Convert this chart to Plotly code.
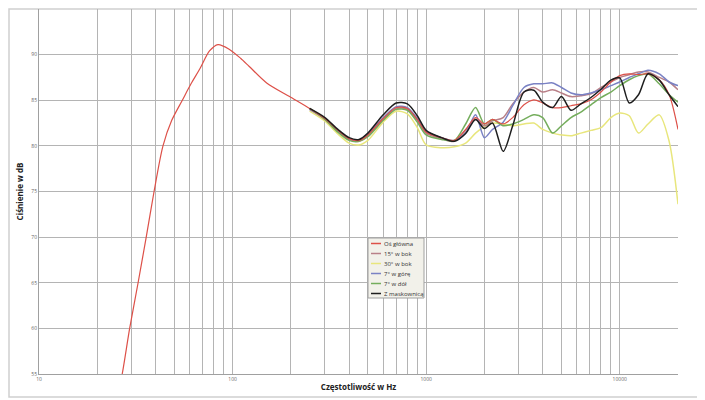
import plotly.graph_objects as go

# Oś główna – zakres niskich częstotliwości (tylko ta krzywa go obejmuje)
freq_low = [26, 26.9, 29.4, 32.5, 35.8, 39.3, 43.7, 48.5, 55, 61, 68, 76, 84, 96, 110, 122, 150, 197]
os_glowna_low = [53.7, 55.0, 60.0, 65.0, 70.0, 75.0, 80.0, 82.8, 85.0, 86.8, 88.5, 90.4, 91.1, 90.6,
                 89.6, 88.7, 86.9, 85.4]

# wspólna siatka częstotliwości dla pomiarów pod kątem
freq = [250, 300, 350, 400, 450, 500, 600, 700, 800, 900, 1000, 1200, 1400,
        1600, 1800, 2000, 2200, 2500, 2800, 3200, 3600, 4000, 4500, 5000, 5600,
        6300, 7100, 8000, 9000, 10000, 11200, 12500, 14000, 16000, 18000, 20000]

os_glowna = [84.1, 83.0, 81.7, 80.8, 80.6, 81.2, 83.0, 84.2, 84.1, 82.9, 81.5, 80.9, 80.6,
             81.8, 83.1, 82.4, 82.9, 82.4, 83.1, 84.5, 85.05, 84.7, 84.2, 84.2, 84.4,
             84.6, 85.05, 85.9, 87.0, 87.7, 87.9, 87.8, 87.9, 87.25, 85.6, 81.8]
bok_15 = [84.0, 82.9, 81.6, 80.7, 80.5, 81.1, 82.9, 84.1, 84.0, 82.8, 81.4, 80.8, 80.5,
          81.7, 82.9, 82.2, 82.75, 83.1, 84.6, 85.9, 86.4, 85.9, 86.15, 85.8, 85.4,
          85.5, 85.7, 86.4, 87.0, 87.5, 87.8, 88.1, 88.1, 87.5, 87.0, 86.15]
bok_30 = [83.8, 82.7, 81.3, 80.3, 80.1, 80.6, 82.6, 83.8, 83.5, 82.0, 80.1, 79.8, 79.9,
          80.3, 81.4, 82.1, 82.5, 82.4, 82.2, 82.4, 82.5, 81.8, 81.4, 81.2, 81.1,
          81.4, 81.7, 82.0, 83.1, 83.6, 83.3, 81.4, 82.4, 83.4, 80.5, 73.6]
gora_7 = [84.0, 83.0, 81.6, 80.8, 80.6, 81.3, 83.1, 84.3, 84.2, 83.0, 81.6, 80.9, 80.6,
          81.4, 83.4, 80.9, 81.8, 82.6, 84.4, 86.4, 86.8, 86.8, 86.9, 86.4, 85.8,
          85.6, 85.8, 86.15, 86.6, 87.0, 87.5, 87.9, 88.3, 87.9, 87.0, 86.6]
dol_7 = [84.1, 82.9, 81.5, 80.6, 80.5, 81.0, 82.8, 84.0, 83.9, 82.6, 81.2, 80.7, 80.6,
         82.4, 84.2, 82.4, 82.9, 82.2, 82.4, 82.9, 83.4, 83.1, 81.4, 82.2, 83.1,
         83.7, 84.5, 85.3, 85.9, 86.6, 87.25, 87.7, 87.9, 86.8, 85.6, 84.8]
maskownica = [84.1, 83.1, 81.8, 80.9, 80.7, 81.4, 83.4, 84.7, 84.6, 83.3, 81.7, 80.9, 80.5,
              81.35, 82.9, 81.9, 82.5, 79.4, 82.2, 85.9, 86.1, 84.8, 84.2, 85.4, 83.9,
              84.6, 85.3, 86.2, 87.2, 87.45, 84.7, 85.6, 87.9, 87.2, 85.6, 84.3]

names = ["Oś główna", "15° w bok", "30° w bok", "7° w górę", "7° w dół", "Z maskownicą"]
colors = ["#dd5048", "#b98088", "#e8e67c", "#7a82c4", "#74ad5c", "#1e1e1e"]
widths = [1.2, 1.5, 1.5, 1.5, 1.5, 1.5]

x_ticks = [10, 100, 1000, 10000]
x_minor = [m * d for d in (10, 100, 1000, 10000) for m in range(2, 10) if m * d <= 20000]
y_ticks = [55, 60, 65, 70, 75, 80, 85, 90, 95]

series_x = [freq_low + freq, freq, freq, freq, freq, freq]
series_y = [os_glowna_low + os_glowna, bok_15, bok_30, gora_7, dol_7, maskownica]

# strona ma 8 px marginesu body, więc figura jest odpowiednio mniejsza
OFF = 8
W, H = 705 - OFF, 400 - OFF
# obszar wykresu w pikselach okna
L, R, T, B = 39, 678, 9, 374


def px_x(p):
    return (p - L) / (R - L)


def px_y(p):
    return 1 - (p - T) / (B - T)


fig = go.Figure()
order = [2, 1, 3, 4, 0, 5]
for i in order:
    fig.add_trace(
        go.Scatter(
            x=series_x[i],
            y=series_y[i],
            mode="lines",
            name=names[i],
            line=dict(color=colors[i], width=widths[i], shape="spline", smoothing=0.8),
            showlegend=False,
        )
    )

# legenda rysowana ręcznie (mała ramka jak w oryginale)
shapes = [
    dict(type="rect", xref="paper", yref="paper",
         x0=px_x(368), x1=px_x(424), y0=px_y(298), y1=px_y(238),
         fillcolor="#f2f1ea", line=dict(color="#a0a0a0", width=1), layer="above"),
    dict(type="rect", xref="paper", yref="paper",
         x0=px_x(OFF + 1), x1=px_x(703), y0=px_y(397), y1=px_y(OFF + 1),
         line=dict(color="#d0d0d0", width=1.5), layer="below"),
]
annotations = []
for i, name in enumerate(names):
    yy = px_y(243.5 + 10 * i)
    shapes.append(dict(type="line", xref="paper", yref="paper",
                       x0=px_x(371), x1=px_x(381), y0=yy, y1=yy,
                       line=dict(color=colors[i], width=1.5), layer="above"))
    annotations.append(dict(xref="paper", yref="paper", x=px_x(382), y=yy,
                            text=name, showarrow=False, xanchor="left", yanchor="middle",
                            font=dict(size=6, color="#333333")))

fig.update_layout(
    width=W,
    height=H,
    margin=dict(l=L - OFF, r=705 - R, t=T - OFF, b=400 - B),
    paper_bgcolor="white",
    plot_bgcolor="white",
    font=dict(family="Open Sans", color="#555555"),
    showlegend=False,
    shapes=shapes,
    annotations=annotations,
)
fig.update_xaxes(
    type="log",
    range=[1, 4.30103],
    tickvals=x_ticks,
    ticktext=[str(v) for v in x_ticks],
    tickfont=dict(size=5, color="#666666"),
    showgrid=True,
    gridcolor="#b4b4b4",
    gridwidth=1,
    minor=dict(tickvals=x_minor, showgrid=True, gridcolor="#b4b4b4", gridwidth=1),
    showline=True,
    linecolor="#a0a0a0",
    zeroline=False,
    ticks="",
    automargin=False,
    title=dict(text="<b>Częstotliwość w Hz</b>", font=dict(size=8, color="#222222"), standoff=3),
)
fig.update_yaxes(
    range=[55, 95],
    tickvals=y_ticks,
    tickfont=dict(size=5, color="#666666"),
    showgrid=True,
    gridcolor="#b4b4b4",
    gridwidth=1,
    showline=True,
    linecolor="#a0a0a0",
    zeroline=False,
    ticks="",
    automargin=False,
    title=dict(text="<b>Ciśnienie w dB</b>", font=dict(size=8, color="#222222"), standoff=6),
)

fig.write_html("out.html")
